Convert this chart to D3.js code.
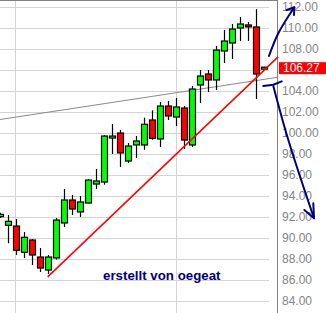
<!DOCTYPE html>
<html>
<head>
<meta charset="utf-8">
<script src="https://d3js.org/d3.v7.min.js"></script>
<style>
  body { margin: 0; background: #fff; }
  svg { display: block; }
</style>
</head>
<body>
<div id="chart"></div>
<script>
// candles, one per trading day
var opens  = [92.03, 91.21, 91.14, 88.64, 89.81, 88.19, 86.95, 88.10, 91.43, 93.62,
              92.48, 93.33, 95.14, 95.33, 99.52, 100.00, 97.33, 98.86, 98.86, 101.24,
              99.43, 102.57, 101.52, 102.38, 98.86, 104.57, 105.62, 105.05, 107.81, 108.57,
              110.00, 110.29, 110.10, 106.10];
var highs  = [92.40, 92.19, 91.81, 90.57, 89.90, 89.05, 88.38, 91.90, 94.67, 94.10,
              94.00, 95.62, 96.57, 99.81, 100.86, 100.29, 99.05, 99.71, 101.46, 102.16,
              102.95, 103.05, 103.33, 102.57, 104.48, 106.00, 106.00, 108.29, 109.81, 110.38,
              111.05, 110.57, 111.80, 106.30];
var lows   = [91.90, 89.50, 88.38, 88.10, 87.43, 86.76, 86.57, 87.95, 91.05, 92.19,
              92.00, 93.30, 94.67, 95.08, 98.00, 96.76, 97.14, 97.62, 98.41, 99.36,
              98.67, 101.24, 100.67, 98.48, 98.67, 102.86, 103.90, 104.10, 106.67, 107.05,
              108.76, 108.76, 103.24, 106.05];
var closes = [92.25, 91.59, 88.83, 90.07, 88.38, 87.14, 88.19, 91.71, 93.62, 92.76,
              93.43, 95.52, 95.43, 99.71, 99.71, 98.10, 98.76, 99.24, 100.83, 99.49,
              102.57, 101.62, 102.48, 99.33, 104.19, 105.43, 105.05, 107.90, 108.76, 109.90,
              110.38, 110.10, 105.62, 106.27];

var yTicks = [84, 86, 88, 90, 92, 94, 96, 98, 100, 102, 104, 106, 108, 110, 112];
var monthMarks = [2, 22];

// drawn lines, [candle index, price]
var supportLine = [[5.9, 86.30], [34.7, 107.25]];
var greyLine    = [[-0.1, 101.28], [34.6, 105.30]];
var arrowUp     = [[33.56, 107.33], [34.73, 109.5], [36.73, 111.97]];
var arrowUpHead = [[35.78, 111.71], [36.73, 111.97], [36.69, 111.24]];
var arrowDnTick = [[32.85, 104.48], [34.1, 104.6], [35.15, 104.92]];
var arrowDn     = [[34.1, 104.48], [35.98, 99.33], [39.19, 91.88]];
var arrowDnHead = [[37.98, 92.67], [39.19, 91.88], [39.1, 93.3]];

var width = 326, height = 313;
var plotRight = 277;

var svg = d3.select("#chart").append("svg")
    .attr("width", width)
    .attr("height", height);

var x = d3.scaleLinear().domain([0, 34]).range([0.5, 272.5]);
var y = d3.scaleLinear().domain([112, 84]).range([7, 301]);

// grid
svg.append("g").selectAll("line")
    .data(yTicks)
    .enter().append("line")
    .attr("x1", 0).attr("x2", 269)
    .attr("y1", function(d){ return Math.round(y(d)) + 0.5; })
    .attr("y2", function(d){ return Math.round(y(d)) + 0.5; })
    .style("stroke", "#d4d4d4");

svg.append("g").selectAll("line")
    .data(monthMarks)
    .enter().append("line")
    .attr("x1", function(d){ return Math.round(x(d)) - 0.5; })
    .attr("x2", function(d){ return Math.round(x(d)) - 0.5; })
    .attr("y1", 1).attr("y2", height)
    .style("stroke", "#d4d4d4");

// border + price axis
svg.append("line")
    .attr("x1", 0).attr("x2", plotRight + 0.5)
    .attr("y1", 0.5).attr("y2", 0.5)
    .style("stroke", "#808080");
svg.append("line")
    .attr("x1", plotRight + 0.5).attr("x2", plotRight + 0.5)
    .attr("y1", 0).attr("y2", height)
    .style("stroke", "#808080");

var lastClose = closes[closes.length - 1];

svg.append("g").selectAll("text")
    .data(yTicks.filter(function(d){ return Math.abs(d - lastClose) > 1; }))
    .enter().append("text")
    .attr("x", 282)
    .attr("y", function(d){ return y(d); })
    .attr("dy", "0.36em")
    .style("font-family", "'Liberation Sans', Arial, sans-serif")
    .style("font-size", "12px")
    .style("fill", "#858585")
    .text(function(d){ return d.toFixed(2); });

var line = d3.line()
    .x(function(d){ return x(d[0]); })
    .y(function(d){ return y(d[1]); });

svg.append("path")
    .attr("d", line(greyLine))
    .style("fill", "none")
    .style("stroke", "#8a8a8a")
    .style("stroke-width", 1);

// candles
var idx = d3.range(opens.length);
var candles = svg.append("g").selectAll("g")
    .data(idx)
    .enter().append("g");

candles.append("line")
    .attr("x1", function(i){ return Math.floor(x(i)) + 0.5; })
    .attr("x2", function(i){ return Math.floor(x(i)) + 0.5; })
    .attr("y1", function(i){ return y(highs[i]); })
    .attr("y2", function(i){ return y(lows[i]); })
    .style("stroke", "#000")
    .style("stroke-width", 1.2);

candles.append("rect")
    .attr("x", function(i){ return Math.floor(x(i)) - 2.5; })
    .attr("width", 6)
    .attr("y", function(i){ return y(Math.max(opens[i], closes[i])); })
    .attr("height", function(i){ return Math.max(2, Math.abs(y(opens[i]) - y(closes[i]))); })
    .style("fill", function(i){ return closes[i] >= opens[i] ? "#00ff00" : "#ff0000"; })
    .style("stroke", "#000")
    .style("stroke-width", 1.2);

svg.append("path")
    .attr("d", line(supportLine))
    .style("fill", "none")
    .style("stroke", "#ff0000")
    .style("stroke-width", 1.5);

// last price tag
svg.append("rect")
    .attr("x", 279)
    .attr("y", y(lastClose) - 5)
    .attr("width", width - 279)
    .attr("height", 12)
    .style("fill", "#ff0000");
svg.append("text")
    .attr("x", 283)
    .attr("y", y(lastClose) + 1)
    .attr("dy", "0.36em")
    .style("font-family", "'Liberation Sans', Arial, sans-serif")
    .style("font-size", "12px")
    .style("fill", "#fff")
    .text(lastClose.toFixed(2));

// hand drawn arrows
var curve = d3.line()
    .x(function(d){ return x(d[0]); })
    .y(function(d){ return y(d[1]); })
    .curve(d3.curveCatmullRom);

[[arrowUp, curve], [arrowUpHead, line], [arrowDnTick, line], [arrowDn, curve], [arrowDnHead, line]]
    .forEach(function(p){
        svg.append("path")
            .attr("d", p[1](p[0]))
            .style("fill", "none")
            .style("stroke", "#00007f")
            .style("stroke-width", 2)
            .style("stroke-linecap", "round")
            .style("stroke-linejoin", "round");
    });

svg.append("text")
    .attr("x", 103)
    .attr("y", 280)
    .style("font-family", "'Liberation Sans', Arial, sans-serif")
    .style("font-weight", "bold")
    .style("font-size", "13.3px")
    .style("fill", "#00007f")
    .text("erstellt von oegeat");
</script>
</body>
</html>
